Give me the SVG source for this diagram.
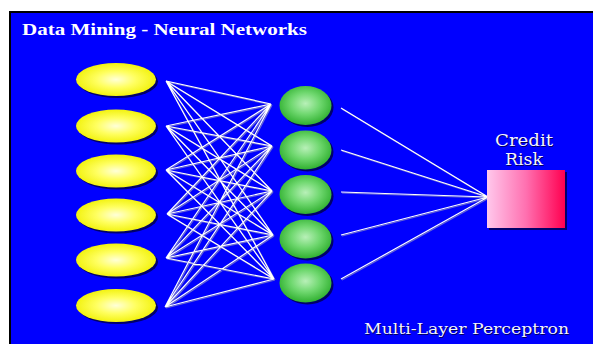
<svg xmlns="http://www.w3.org/2000/svg" width="593" height="344" viewBox="0 0 593 344">
  <defs>
    <radialGradient id="yellowFill" cx="0.5" cy="0.5" r="0.55">
      <stop offset="0" stop-color="#ffffd8"/>
      <stop offset="0.45" stop-color="#ffff60"/>
      <stop offset="1" stop-color="#f0f000"/>
    </radialGradient>
    <radialGradient id="greenFill" cx="0.5" cy="0.45" r="0.55">
      <stop offset="0" stop-color="#b8f0b8"/>
      <stop offset="0.5" stop-color="#70d870"/>
      <stop offset="1" stop-color="#30b030"/>
    </radialGradient>
    <linearGradient id="pinkFill" x1="0" y1="0" x2="1" y2="0">
      <stop offset="0" stop-color="#ffc8ec"/>
      <stop offset="0.5" stop-color="#ff70b0"/>
      <stop offset="1" stop-color="#ff0050"/>
    </linearGradient>
  </defs>
  <style>
    .bg { fill: #0000ff; }
    .shadow { fill: #00006a; }
    .input { fill: url(#yellowFill); }
    .hidden { fill: url(#greenFill); }
    .output { fill: url(#pinkFill); }
    .link { stroke: #ffffff; stroke-width: 1.2; fill: none; }
    .linkShadow { stroke: #6a6ad0; stroke-width: 1.2; fill: none; }
    .title { font-family: "Liberation Serif", "DejaVu Serif", serif; font-weight: bold; font-size: 17px; fill: #ffffff; }
    .label { font-family: "DejaVu Serif", "Liberation Serif", serif; font-size: 14px; fill: #f4f4ff; }
    .labelShadow { font-family: "DejaVu Serif", "Liberation Serif", serif; font-size: 14px; fill: #000060; }
    .big { font-size: 16px; }
  </style>

  <!-- page background and frame -->
  <rect x="0" y="0" width="593" height="344" fill="#ffffff"/>
  <rect x="9" y="11" width="584" height="333" fill="#000000"/>
  <rect class="bg" x="11" y="13" width="582" height="331"/>

  <text class="title" x="22" y="35" textLength="285" lengthAdjust="spacingAndGlyphs">Data Mining - Neural Networks</text>

  <!-- connectors -->
  <g id="connectors">
    <g transform="translate(1,1)" class="linkShadow">
      <path d="M166 81 L271 104 M166 81 L272 146 M166 81 L272 191 M166 81 L273 235 M166 81 L274 279
               M166 126 L271 104 M166 126 L272 146 M166 126 L272 191 M166 126 L273 235 M166 126 L274 279
               M166 170 L271 104 M166 170 L272 146 M166 170 L272 191 M166 170 L273 235 M166 170 L274 279
               M167 214 L271 104 M167 214 L272 146 M167 214 L272 191 M167 214 L273 235 M167 214 L274 279
               M166 258 L271 104 M166 258 L272 146 M166 258 L272 191 M166 258 L273 235 M166 258 L274 279
               M165 307 L271 104 M165 307 L272 146 M165 307 L272 191 M165 307 L273 235 M165 307 L274 279
               M341 108 L488 197 M341 150 L488 197 M341 192 L488 197 M341 235 L488 197 M341 279 L488 197"/>
    </g>
    <g class="link">
      <path d="M166 81 L271 104 M166 81 L272 146 M166 81 L272 191 M166 81 L273 235 M166 81 L274 279
               M166 126 L271 104 M166 126 L272 146 M166 126 L272 191 M166 126 L273 235 M166 126 L274 279
               M166 170 L271 104 M166 170 L272 146 M166 170 L272 191 M166 170 L273 235 M166 170 L274 279
               M167 214 L271 104 M167 214 L272 146 M167 214 L272 191 M167 214 L273 235 M167 214 L274 279
               M166 258 L271 104 M166 258 L272 146 M166 258 L272 191 M166 258 L273 235 M166 258 L274 279
               M165 307 L271 104 M165 307 L272 146 M165 307 L272 191 M165 307 L273 235 M165 307 L274 279
               M341 108 L488 197 M341 150 L488 197 M341 192 L488 197 M341 235 L488 197 M341 279 L488 197"/>
    </g>
  </g>

  <!-- input layer -->
  <g id="input1"><ellipse class="shadow" cx="118" cy="81.5" rx="40" ry="16.5"/><ellipse class="input" cx="116" cy="79.5" rx="40" ry="16.5"/></g>
  <g id="input2"><ellipse class="shadow" cx="118" cy="128" rx="40" ry="16.5"/><ellipse class="input" cx="116" cy="126" rx="40" ry="16.5"/></g>
  <g id="input3"><ellipse class="shadow" cx="118" cy="173" rx="40" ry="16.5"/><ellipse class="input" cx="116" cy="171" rx="40" ry="16.5"/></g>
  <g id="input4"><ellipse class="shadow" cx="118" cy="217" rx="40" ry="16.5"/><ellipse class="input" cx="116" cy="215" rx="40" ry="16.5"/></g>
  <g id="input5"><ellipse class="shadow" cx="118" cy="262" rx="40" ry="16.5"/><ellipse class="input" cx="116" cy="260" rx="40" ry="16.5"/></g>
  <g id="input6"><ellipse class="shadow" cx="118" cy="307.5" rx="40" ry="16.5"/><ellipse class="input" cx="116" cy="305.5" rx="40" ry="16.5"/></g>

  <!-- hidden layer -->
  <g id="hidden1"><ellipse class="shadow" cx="307.5" cy="107.5" rx="26" ry="19.5"/><ellipse class="hidden" cx="305.5" cy="105.5" rx="26" ry="19.5"/></g>
  <g id="hidden2"><ellipse class="shadow" cx="307.5" cy="152" rx="26" ry="19.5"/><ellipse class="hidden" cx="305.5" cy="150" rx="26" ry="19.5"/></g>
  <g id="hidden3"><ellipse class="shadow" cx="307.5" cy="196.5" rx="26" ry="19.5"/><ellipse class="hidden" cx="305.5" cy="194.5" rx="26" ry="19.5"/></g>
  <g id="hidden4"><ellipse class="shadow" cx="307.5" cy="241" rx="26" ry="19.5"/><ellipse class="hidden" cx="305.5" cy="239" rx="26" ry="19.5"/></g>
  <g id="hidden5"><ellipse class="shadow" cx="307.5" cy="285" rx="26" ry="19.5"/><ellipse class="hidden" cx="305.5" cy="283" rx="26" ry="19.5"/></g>

  <!-- output node -->
  <g id="output">
    <rect class="shadow" x="489" y="172" width="78" height="58"/>
    <rect class="output" x="487" y="170" width="78" height="58"/>
    <text class="labelShadow big" x="496" y="147" textLength="58" lengthAdjust="spacingAndGlyphs">Credit</text>
    <text class="label big" x="495" y="146" textLength="58" lengthAdjust="spacingAndGlyphs">Credit</text>
    <text class="labelShadow big" x="506" y="166" textLength="38" lengthAdjust="spacingAndGlyphs">Risk</text>
    <text class="label big" x="505" y="165" textLength="38" lengthAdjust="spacingAndGlyphs">Risk</text>
  </g>

  <text class="labelShadow" x="365" y="335" textLength="205" lengthAdjust="spacingAndGlyphs">Multi-Layer Perceptron</text>
  <text class="label" x="364" y="334" textLength="205" lengthAdjust="spacingAndGlyphs">Multi-Layer Perceptron</text>
</svg>
